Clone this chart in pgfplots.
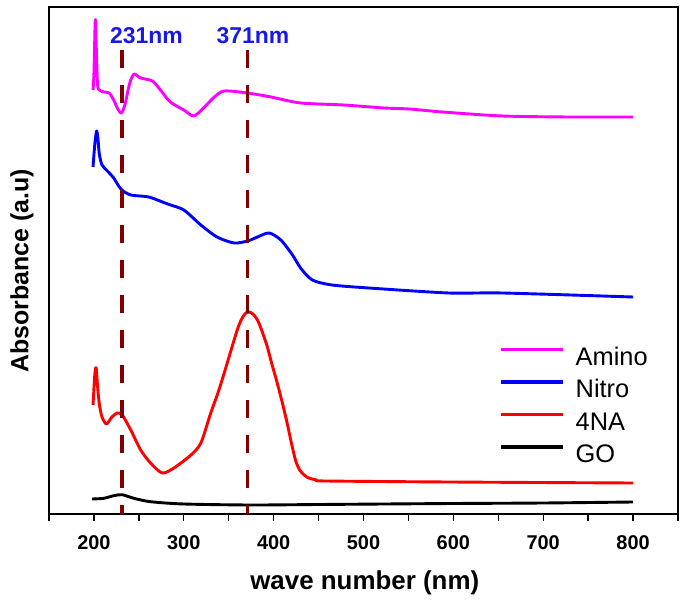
\documentclass[border=0pt]{standalone}
\usepackage{fontspec}
\setmainfont{Liberation Sans}
\usepackage{pgfplots}
\pgfplotsset{compat=1.18}
\definecolor{dred}{RGB}{128,0,0}
\definecolor{annblue}{RGB}{25,25,230}
\definecolor{mag}{RGB}{255,0,255}
\begin{document}
\begin{tikzpicture}
\useasboundingbox (-49bp,-93bp) rectangle (636bp,514bp);
\begin{axis}[
 scale only axis, width=629bp, height=507bp,
 xmin=150, xmax=850, ymin=0, ymax=507,
 xtick={200,300,...,800}, minor xtick={150,250,...,850},
 ytick=\empty,
 tick align=outside, xtick pos=bottom,
 major tick length=7bp, minor tick length=7bp,
 every tick/.append style={black, line width=1.4bp},
 every minor tick/.append style={black, line width=1.4bp},
 axis line style={line width=1.6bp},
 /pgf/number format/assume math mode=true,
 xticklabel style={font=\fontsize{20}{23}\selectfont\bfseries, yshift=-11bp},
 xlabel={wave number (nm)},
 xlabel style={font=\fontsize{26}{30}\selectfont\bfseries, at={(axis description cs:0.502,-0.136)}, anchor=center},
 ylabel={Absorbance (a.u)},
 ylabel style={font=\fontsize{25}{30}\selectfont\bfseries, at={(axis description cs:-0.043,0.48)}, anchor=center},
 legend style={at={(0.7154,0.3333)}, anchor=north west, draw=none, fill=none,
   font=\fontsize{25.5}{30}\selectfont, inner sep=0pt, row sep=5.4bp,
   nodes={inner sep=2bp, text height=18bp, text depth=5bp},
   /tikz/every odd column/.append style={column sep=9bp}},
 legend cell align=left,
 legend image code/.code={\draw[#1, line width=3.5bp] (0bp,9bp) -- (62bp,9bp);},
 every axis plot/.append style={line width=2.9bp, line join=round},
]
\addplot[mag, smooth, tension=0.45] coordinates {(199,424) (200,440) (201.5,494) (202.5,470) (204,430) (206,424) (211,422) (217,421) (222,414) (226,406) (229.7,401) (232,403) (235,411) (238,424) (241,434) (245,440) (252,436) (265,433) (274,424) (285,412) (300,404) (311,398) (322,406) (334,417) (345,423) (371,421) (397,417) (430,411) (478,409) (523,406) (551,405) (588,402) (655,398) (729,397) (800,397)};
\addlegendentry{Amino}
\addplot[blue, smooth, tension=0.45] coordinates {(199,347) (201,370) (203,383) (204.5,375) (206,360) (209,349) (215,343) (222,336) (230,325) (241,319) (261,317) (282,310) (300,304) (319,289) (337,277) (356,271) (371,273) (382,277) (395,281) (408,274) (421,259) (430,246) (443,234) (465,229) (506,226) (595,221) (655,221) (800,217)};
\addlegendentry{Nitro}
\addplot[red, smooth, tension=0.45] coordinates {(199,109) (201,140) (202.5,146) (204,128) (206,110) (209,97) (214,90) (220,97) (226,101) (231.5,99) (241,84) (252,64) (263,51) (276,41) (289,46) (308,59) (319,71) (330,101) (338,121) (345,141) (351,159) (356,174) (361,188) (365,196) (369,201) (372.6,202) (377,200) (382,194) (387,183) (393,167) (398,150) (404,131) (410,110) (415,91) (420,70) (424.6,53) (429,44) (434,39) (439,36) (448,34) (458,33) (595,32) (800,31)};
\addlegendentry{4NA}
\addplot[black, smooth, tension=0.45] coordinates {(198,15) (211,15.7) (222,18.3) (231.5,19.3) (244.5,15.7) (263,12.3) (300,10) (374,9) (450,9.5) (523,10) (600,10.5) (700,11) (800,12)};
\addlegendentry{GO}
\addplot[dred, line width=3.6bp, dash pattern=on 18bp off 17bp, forget plot] coordinates {(231,464) (231,0)};
\addplot[dred, line width=3.6bp, dash pattern=on 18bp off 17bp, forget plot] coordinates {(371,464) (371,0)};
\node[font=\fontsize{23}{27}\selectfont\bfseries, text=annblue] at (axis cs:258.5,478) {231nm};
\node[font=\fontsize{23}{27}\selectfont\bfseries, text=annblue] at (axis cs:377,478) {371nm};
\end{axis}
\end{tikzpicture}
\end{document}
